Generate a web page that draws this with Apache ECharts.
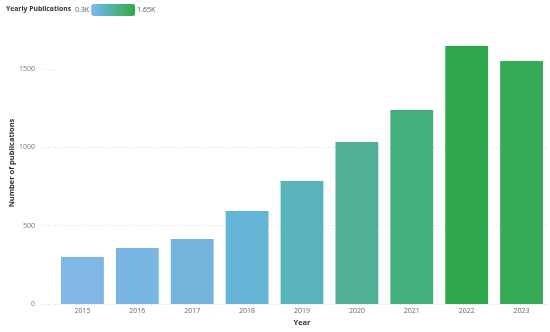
<!DOCTYPE html>
<html><head><meta charset="utf-8">
<script src="https://cdn.jsdelivr.net/npm/echarts@6/dist/echarts.min.js"></script>
<style>html,body{margin:0;padding:0;background:#fff}#c{width:550px;height:332px}</style>
</head><body><div id="c"></div>
<script>
const years = ['2015','2016','2017','2018','2019','2020','2021','2022','2023'];
const publications = [300, 357, 415, 594, 785, 1034, 1238, 1647, 1551];
const yTicks = [0, 500, 1000, 1500];
const colorMin = 300, colorMax = 1650;
const colorStops = ['#80b7e6', '#5fb4d2', '#52b19c', '#41ae72', '#2ea84a'];

const font = '"Open Sans","Noto Sans",sans-serif';
const chart = echarts.init(document.getElementById('c'), null, {renderer: 'canvas'});
chart.setOption({
  animation: false,
  textStyle: {fontFamily: font},
  title: {text: 'Yearly Publications', left: 6, top: 6, padding: 0,
    textStyle: {fontSize: 6.8, fontWeight: 'bold', color: '#333', fontFamily: font}},
  visualMap: {
    type: 'continuous', orient: 'horizontal', min: colorMin, max: colorMax,
    left: 75, top: 4, padding: 0, itemWidth: 12, itemHeight: 44, calculable: false,
    text: ['1.65K', '0.3K'], textGap: 2,
    textStyle: {fontSize: 7, color: '#555', fontFamily: font},
    inRange: {color: colorStops}, seriesIndex: 0
  },
  grid: {left: 55, right: 1, top: 22, bottom: 28, outerBoundsMode: 'none', containLabel: false},
  xAxis: {
    type: 'category', data: years,
    name: 'Year', nameLocation: 'middle', nameGap: 15, nameMoveOverlap: false,
    nameTextStyle: {fontSize: 7.5, fontWeight: 'bold', color: '#333'},
    axisLine: {show: false}, axisTick: {show: false},
    axisLabel: {fontSize: 7, color: '#666', margin: 3}
  },
  yAxis: {
    type: 'value', min: 0, max: 1800, interval: 500,
    name: 'Number of publications', nameLocation: 'middle', nameGap: 39, nameMoveOverlap: false,
    nameTextStyle: {fontSize: 7.5, fontWeight: 'bold', color: '#333'},
    axisLine: {show: true, lineStyle: {color: 'rgba(0,0,0,0)'}},
    axisTick: {show: true, length: 15, customValues: yTicks,
      lineStyle: {color: '#ddd', type: [1, 2]}},
    axisLabel: {fontSize: 7, color: '#777', margin: 20, customValues: yTicks,
      formatter: v => (yTicks.indexOf(v) >= 0 ? String(v) : '')},
    splitLine: {show: true, showMaxLine: false, lineStyle: {color: '#ddd', type: [1, 2]}}
  },
  series: [{
    type: 'bar', data: publications, barCategoryGap: '22%'
  }]
});
</script></body></html>
